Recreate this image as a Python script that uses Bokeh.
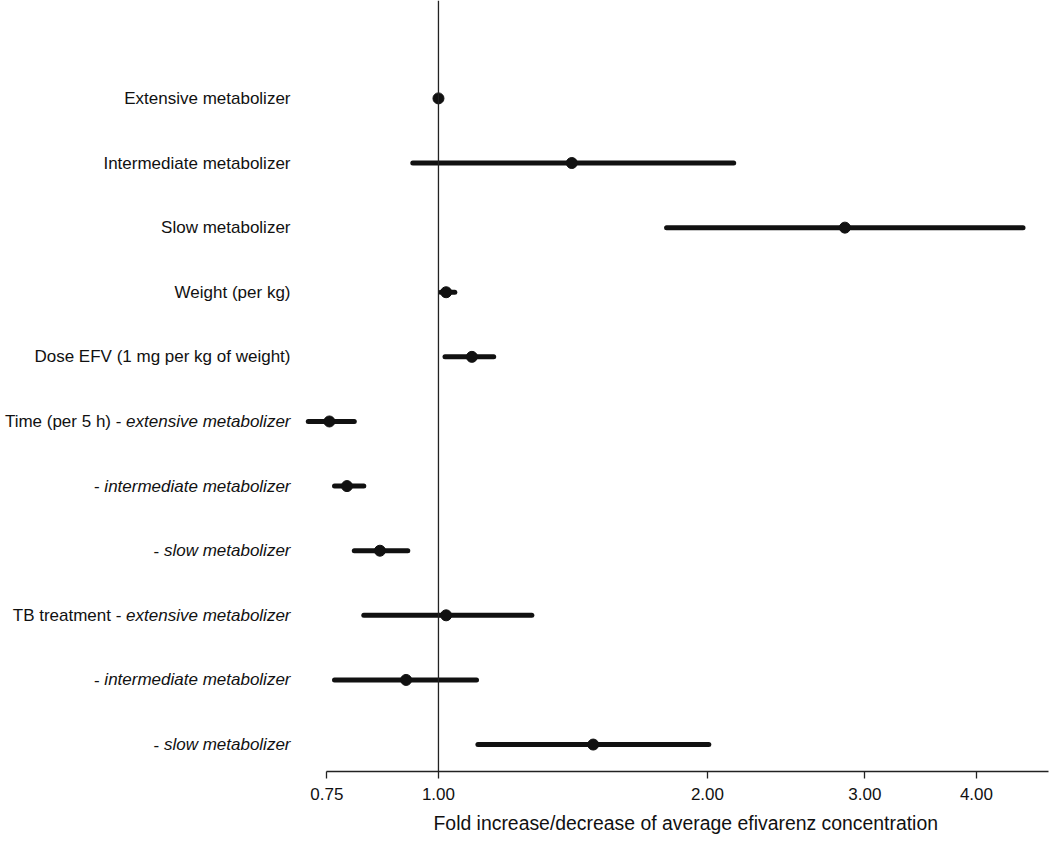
from bokeh.plotting import figure
from bokeh.models import Range1d, LinearScale, Span, FixedTicker, NumeralTickFormatter, Title
from bokeh.core.properties import value
from bokeh.embed import file_html
from bokeh.resources import INLINE

# ---------------- data ----------------
label_plain = ["Extensive metabolizer", "Intermediate metabolizer", "Slow metabolizer",
               "Weight (per kg)", "Dose EFV (1 mg per kg of weight)",
               "Time (per 5 h) -", "-", "-", "TB treatment -", "-", "-"]
label_italic = ["", "", "", "", "",
                "extensive metabolizer", "intermediate metabolizer", "slow metabolizer",
                "extensive metabolizer", "intermediate metabolizer", "slow metabolizer"]
estimate = [1.00, 1.41, 2.85, 1.02, 1.09, 0.755, 0.79, 0.86, 1.02, 0.92, 1.49]
ci_low = [1.00, 0.936, 1.80, 1.006, 1.017, 0.715, 0.765, 0.805, 0.825, 0.765, 1.107]
ci_high = [1.00, 2.14, 4.51, 1.043, 1.153, 0.805, 0.825, 0.924, 1.272, 1.103, 2.007]
x_ticks = [0.75, 1.00, 2.00, 3.00, 4.00]
x_title = "Fold increase/decrease of average efivarenz concentration"

# ---------------- layout helpers ----------------
FONT = "Liberation Sans"
FS = 17
W, H = 1050, 841
HELV = {'a': 556, 'b': 556, 'c': 500, 'd': 556, 'e': 556, 'i': 222, 'l': 222, 'm': 833,
        'n': 556, 'o': 556, 'r': 333, 's': 500, 't': 278, 'v': 500, 'w': 722, 'x': 500,
        'z': 500, ' ': 278}


def text_width(s):
    return sum(HELV.get(c, 556) for c in s) / 1000.0 * FS


rows = list(range(len(estimate)))
label_right = 290
ital_x = [label_right] * len(rows)
plain_x = [label_right - (text_width(t) + 0.278 * FS if t else 0) for t in label_italic]

p = figure(width=W, height=H, x_axis_type="log",
           x_range=Range1d(0.3235, 4.841), y_range=Range1d(10.417, -1.515),
           y_axis_location=None, toolbar_location=None, output_backend="svg",
           min_border=0, min_border_bottom=69)
p.outline_line_color = None
p.xgrid.visible = False
p.ygrid.visible = False
p.background_fill_color = "white"
p.border_fill_color = "white"

p.extra_x_ranges = {"px": Range1d(0, W)}
p.extra_x_scales = {"px": LinearScale()}

ax = p.xaxis[0]
ax.ticker = FixedTicker(ticks=x_ticks, minor_ticks=[])
ax.formatter = NumeralTickFormatter(format="0.00")
ax.bounds = (0.75, 4.816)
ax.axis_line_color = "#222222"
ax.axis_line_width = 1.3
ax.major_tick_line_color = "#222222"
ax.major_tick_line_width = 1.3
ax.major_tick_in = 0
ax.major_tick_out = 7
ax.minor_tick_line_color = None
ax.major_label_text_font = FONT
ax.major_label_text_font_size = f"{FS}px"
ax.major_label_text_color = "#111111"
ax.major_label_standoff = 9

p.add_layout(Title(text=x_title, align="left", offset=433, text_font=FONT,
                   text_font_size="19.4px", text_font_style="normal",
                   text_color="#111111", standoff=15), "below")

p.add_layout(Span(location=1.0, dimension="height", line_color="#222222", line_width=1.3))

p.segment(x0=ci_low, y0=rows, x1=ci_high, y1=rows, line_color="#111111",
          line_width=5, line_cap="round")
p.scatter(x=estimate, y=rows, size=11, fill_color="#111111", line_color="#111111")

p.text(x=plain_x, y=rows, text=label_plain, x_range_name="px", text_align="right",
       text_baseline="middle", text_font=value(FONT), text_font_size=f"{FS}px",
       text_color="#111111")
p.text(x=ital_x, y=rows, text=label_italic, x_range_name="px", text_align="right",
       text_baseline="middle", text_font=value(FONT), text_font_size=f"{FS}px",
       text_font_style="italic", text_color="#111111")

open("out.html", "w").write(file_html(p, INLINE))
